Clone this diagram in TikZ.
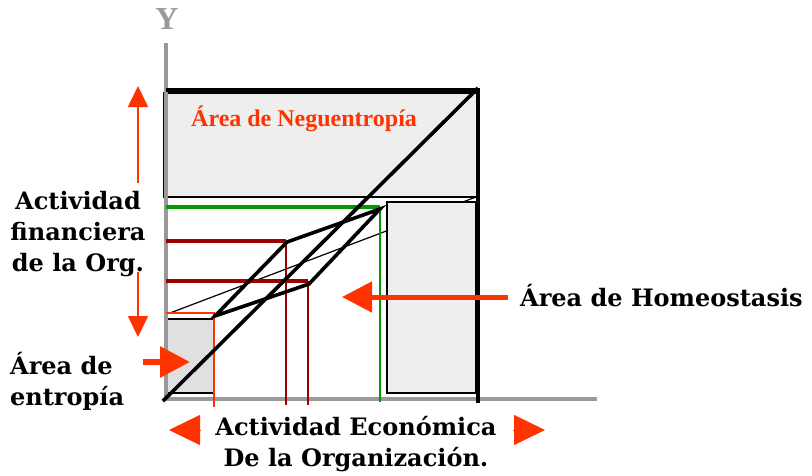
\documentclass[tikz,border=0pt]{standalone}
\usepackage{fontspec}
\setmainfont{DejaVu Serif}
\newfontfamily\timesfont{Liberation Serif}
\usetikzlibrary{arrows.meta}
\definecolor{flame}{HTML}{FF3300}
\definecolor{maroon}{HTML}{990000}
\definecolor{leaf}{HTML}{009900}
\definecolor{axisgray}{HTML}{999999}
\definecolor{panel}{HTML}{EEEEEE}
\definecolor{paneldk}{HTML}{E0E0E0}
\tikzset{
  axisline/.style={line width=4.5pt, color=axisgray},
  heavy/.style={line width=3.6pt, color=black},
  zone/.style={draw=black, line width=1.3pt, fill=#1},
  zone/.default=panel,
  lvlh/.style={line width=3.2pt, color=#1},
  lvlv/.style={line width=1.7pt, color=#1},
  push/.style={-{Triangle[length=30pt,width=30pt]}, line width=#1, color=flame},
  push/.default=6pt,
  rise/.style={-{Triangle[length=21pt,width=20pt]}, line width=1.7pt, color=flame},
  wide/.style={-{Triangle[length=31pt,width=30pt]}, line width=1pt, color=flame},
  lab/.style={font=\fontsize{24}{31}\selectfont\bfseries, inner sep=0pt},
}
\begin{document}
\begin{tikzpicture}[x=1pt,y=-1pt]
  \path[use as bounding box] (0,0) rectangle (812,475);
  % thin guide line, partly under the right panel
  \draw[line width=1.2pt] (170,313) -- (476,197);
  % panels
  \draw[zone] (164,93) rectangle (478,197);
  \draw[zone] (387,202) rectangle (476,393);
  \draw[zone=paneldk] (166,319) rectangle (214,393);
  % axes
  \draw[axisline] (166,43) -- (166,401);
  \draw[axisline] (164,399) -- (597,399);
  \node[font=\timesfont\fontsize{32}{32}\selectfont\bfseries, text=axisgray, anchor=base] (ylab) at (167,29) {Y};
  % levels
  \draw[lvlh=leaf] (166,207) -- (380,207);
  \draw[lvlv=leaf] (380,207) -- (380,402);
  \foreach \yy/\xx in {241/286, 281/308} {
    \draw[lvlh=maroon] (166,\yy) -- (\xx,\yy);
    \draw[lvlv=maroon] (\xx,\yy) -- (\xx,405);
  }
  \draw[lvlv=flame] (166,313) -- (214,313) -- (214,407);
  % frame and diagonal
  \draw[heavy] (166,90) -- (478,90);
  \draw[heavy] (478,88) -- (478,403);
  \coordinate (orig) at (163,401);
  \coordinate (apex) at (478,88);
  \draw[heavy] (orig) -- (apex);
  \coordinate (pa) at (215,316);
  \coordinate (pb) at (287,242);
  \coordinate (pc) at (380,209);
  \coordinate (pd) at (309,284);
  \draw[heavy, line join=miter] (pa) -- (pb) -- (pc) -- (pd) -- cycle;
  % labels
  \node[lab, font=\timesfont\fontsize{24}{24}\selectfont\bfseries, text=flame, anchor=base west] (neg) at (191,126) {Área de Neguentropía};
  \node[lab, align=center, anchor=north, fill=white, inner sep=1pt] (fin) at (78,190) {Actividad\\financiera\\de la Org.};
  \coordinate (uptip) at (138,86);
  \coordinate (dntip) at (138,337);
  \draw[rise] (fin.north -| uptip) ++(0,-7) -- (uptip);
  \draw[rise] (fin.south -| uptip) ++(0,-6) -- (dntip);
  \node[lab, align=left, anchor=north west] (ent) at (10,352) {Área de\\entropía};
  \coordinate (enttip) at (190,362);
  \draw[push] (143,362) -- (enttip);
  \node[lab, anchor=base west] (homeo) at (520,306) {Área de Homeostasis};
  \coordinate (homtip) at (342,297);
  \draw[push=5pt] (homeo.west |- homtip) ++(-12,0) -- (homtip);
  \node[lab, align=center, anchor=north] (econ) at (356,416) {Actividad Económica\\De la Organización.};
  \coordinate (ltip) at (169,430);
  \coordinate (rtip) at (545,430);
  \draw[wide] (201,430) -- (ltip);
  \draw[wide] (513,430) -- (rtip);
\end{tikzpicture}
\end{document}
